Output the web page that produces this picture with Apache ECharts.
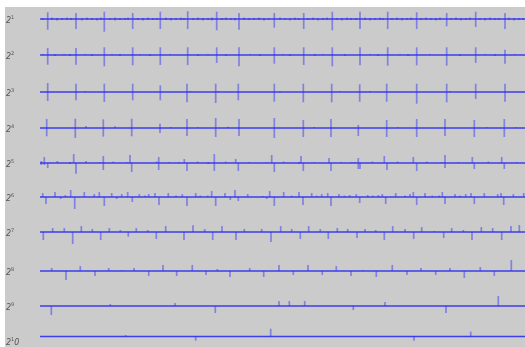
<!DOCTYPE html>
<html><head><meta charset="utf-8">
<script src="https://cdn.jsdelivr.net/npm/echarts@6/dist/echarts.min.js"></script>
<style>html,body{margin:0;padding:0;background:#fff}#c{width:525px;height:347px}</style>
</head><body><div id="c"></div>
<script>
// Scale labels (rich text: base 2 with exponent)
const scaleLabels = ['{b|2}{s|1}','{b|2}{s|2}','{b|2}{s|3}','{b|2}{s|4}','{b|2}{s|5}','{b|2}{s|6}','{b|2}{s|7}','{b|2}{s|8}','{b|2}{s|9}','{b|2}{s|1}{b|0}'];
const X_MAX = 485;
// Spikes per scale: [time, up amplitude, down amplitude]
const row1 = [[7.7,6.7,10.7],[36,6,10],[64.3,7.3,12.7],[92.7,6,10],[120.3,7.3,10],[147.7,7.7,10],[176.7,7.3,11.3],[199,6,10.7],[234.3,6,8.7],[263.7,6,10],[292.3,7.3,11.3],[320,7.3,10],[347.7,7.3,10],[376.7,6.7,10],[406.7,6,7.3],[435.7,7.3,8],[465,6,10]];
const row1Noise = [[3,1,1],[12,1.5,1],[17,1,1.5],[22,1,1],[27,1.5,1],[31,1,1],[42,1,1.5],[47,1.5,1],[52,1,1],[57,1,1.5],[61,1.5,1],[70,1,1],[75,1.5,1.5],[80,1,1],[85,1,1],[88,1.5,1],[98,1,1],[103,1,1.5],[108,1.5,1],[113,1,1],[117,1,1],[126,1.5,1],[131,1,1.5],[136,1,1],[141,1.5,1],[144,1,1],[153,1,1],[158,1.5,1],[163,1,1.5],[168,1,1],[172,1.5,1.5],[182,1,1],[186,1.5,1],[191,1,1],[195,1,1.5],[204,1.5,1],[209,1,1],[214,1,1],[219,1.5,1],[224,1,1.5],[229,1,1],[240,1.5,1],[245,1,1],[250,1,1.5],[255,1.5,1],[259,1,1],[268,1,1],[273,1.5,1],[278,1,1.5],[283,1,1],[287,1.5,1],[297,1,1],[302,1,1.5],[307,1.5,1],[311,1,1],[316,1,1],[325,1.5,1],[330,1,1.5],[335,1,1],[340,1.5,1],[343,1,1],[352,1,1],[357,1.5,1],[362,1,1.5],[367,1,1],[371,1.5,1],[381,1,1],[386,1.5,1],[391,1,1],[396,1,1.5],[400,1.5,1],[411,1,1],[416,1.5,1],[421,1,1.5],[426,1,1],[430,1.5,1],[440,1,1],[445,1,1.5],[450,1.5,1],[455,1,1],[459,1,1],[469,1.5,1],[474,1,1.5],[479,1,1],[483,1,1]];
const row2 = [[7.7,7,9.7],[36,7,9.7],[64.3,7.7,11.3],[92.7,7.7,10.3],[120.3,7.7,10],[147.7,7.7,10],[176.7,7.7,8],[199,7.7,11.3],[234.3,7.7,8.7],[263.7,7.7,10],[292.3,7.7,11.3],[320,7.7,10.3],[347.7,7.7,10.7],[376.7,7.7,10.3],[406.7,7.7,10.7],[435.7,7.7,8],[465,5.3,8.7]];
const row2Noise = [[3,1,0],[15,1,1],[24,1,0],[30,1,1],[45,1,0],[52,1,1],[72,1,0],[80,1,1],[100,1,0],[110,1,1],[130,1,0],[158,1,1],[168,1,0],[186,1,1],[210,1,0],[220,1,1],[243,1,0],[250,1,1],[275,1,1],[283,1,0],[305,1,1],[330,1,0],[338,1,1],[360,1,0],[368,1,1],[390,1,0],[420,1,1],[445,1,0],[455,1,1],[475,1,0]];
const row3 = [[7.7,9,9],[36,8.3,8.3],[64.3,8.3,10],[92.7,8.3,8.3],[120.3,6.7,8.3],[147,8.3,10.3],[175.7,8.3,11],[198.3,8.3,8.3],[234.3,8.3,9.7],[263.3,8.3,10.3],[291.7,8.3,10.3],[319.7,7.7,9.7],[346.7,8.3,9.7],[376.7,8.3,11.7],[406.7,8.3,10.3],[435.7,8.3,7],[465,8.3,9.7]];
const row3Noise = [[45,1,0],[150,1,0],[178,1,0],[240,1,0],[300,1,0],[330,1,0],[410,1,0]];
const row4 = [[6.7,9,8.3],[35.3,9.3,10],[46,2,0],[63.3,8.7,8.7],[75,1.7,0],[91.7,9.3,8.3],[120,4.3,5],[130.7,1,0],[147,9,8],[157.7,1,0],[175.7,10,9],[188,1.3,0],[199,9,8],[234.3,10,10],[263.3,8,9],[274,1,0],[291,9,9],[318.3,3,8],[346.7,8,9],[357.7,1,0],[376.7,9,9],[405,9,8],[434.3,8,9],[446.7,1,0],[464.3,9,9],[475.7,1,0]];
const row5 = [[1.3,2,2],[4.3,6,2],[7.7,0,5],[17.3,2,0],[30,1,1],[33.7,9,0],[36,0,10.7],[46,2,0],[60,1,0],[63.3,7,7],[73.3,1.5,0],[86.7,1,0],[90,8,0],[91.7,0,9],[116.7,1.5,0],[118.7,6,7],[129,1,0],[139,1,0],[144.3,4,0],[147,0,8],[157.7,1.5,0],[168.3,1,1],[174.3,9,8],[185.7,1.5,0],[195.7,4,0],[198.3,0,8],[209,1,0],[226.7,1,0],[231.7,8,0],[234.3,0,9],[243.7,1.5,0],[259,1,1],[261,7,0],[263.3,0,8],[274.3,1,0],[289,5,0],[291,0,8],[301,1,0],[311.7,1,0],[315,1,0],[318.3,5,6],[320,0,6],[332.3,1.5,0],[344.3,7,0],[347,0,7],[357.7,1.5,0],[373.3,6,0],[376.7,0,8],[386.7,1.5,0],[401.7,1,0],[405,8,5],[418.3,1,0],[432.3,6,0],[434.3,0,6],[448.3,1.5,0],[461.7,6,0],[464.3,0,6],[476.7,1,0]];
const row6 = [[2.7,4,0],[6,0,7],[15,5,0],[20.7,0,2],[25.3,2,0],[30.7,7,0],[34.7,0,12],[44.3,5,0],[54.3,3,0],[59.3,5,0],[64.3,0,9],[71.7,4,0],[76.7,0,2],[81.7,3,0],[87.7,5,0],[92.3,0,5],[99.3,3,0],[105,1.5,0],[108.7,3,0],[115,4,0],[119,0,8],[128.3,4,0],[136,1.5,0],[142.3,3,0],[147,0,9],[155.7,4,0],[160.3,1.5,0],[167.7,1.5,0],[171.7,6,0],[175.7,0,9],[185,4,0],[190.3,0,3],[195,7,0],[198.3,0,4],[207.7,3,0],[223,1,0],[226.7,0,2],[229.7,6,0],[234.3,0,9],[243.7,5,0],[251.7,1.5,0],[259,5,0],[263,0,8],[271.7,4,0],[276.7,1.5,0],[281.7,3,0],[287.7,4,0],[291,0,9],[299,3,0],[304.3,1.5,0],[309.7,2,0],[316.3,3,0],[319.7,0,6],[327.7,2,0],[333,1.5,0],[338.3,2,0],[342.3,3,0],[345.7,0,7],[355.7,4,0],[365,1.5,0],[370,3,0],[373.3,5,0],[376.7,0,8],[385,4,0],[392.3,1.5,0],[399,1.5,0],[402.3,5,0],[405,0,7],[415,3,0],[420,1.5,0],[425.7,3,0],[431,4,0],[434.3,0,7],[444.3,4,0],[457.7,3,0],[461,4,0],[463.7,0,8],[473.3,3,0],[483.7,4,0]];
const row7 = [[3.3,0,8],[12.7,4,0],[24.3,4,0],[32.7,0,12],[41.3,6,0],[52.3,3,0],[60.7,0,8],[69.3,4,0],[80.3,2,0],[88.3,0,4.7],[96.3,4,0],[107.7,2,0],[116.3,0,7],[125.7,6,0],[144,0,8],[153,6.7,0],[164.7,3,0],[172.7,0,8],[182,6,0],[196,0,8],[204.3,3,0],[221.7,3,0],[231,0,10],[240.7,6,0],[251.7,3,0],[260.3,0,7],[268.7,6,0],[280.3,3,0],[288.3,0,7],[297.3,4,0],[307.7,3,0],[317,0,6],[325,3,0],[335.7,2,0],[344.3,0,8],[352.7,6,0],[365,3,0],[373.7,0,7],[381.7,5,0],[394.3,1,0],[403.7,0,6],[411.7,4,0],[423.3,2,0],[432,0,8],[441.3,5,0],[452.7,4,0],[461.7,0,8],[471,6,0],[479.3,7,0]];
const row8 = [[11.7,3,0],[26,0,9],[40.3,5,0],[55,0,5],[68.7,3,0],[81.7,1,0],[94,3,0],[108.7,0,5],[123,6,0],[136.7,0,5],[152.3,6,0],[166,0,4],[177.3,2,0],[190,0,6],[209.7,3,0],[223.7,0,6],[239,6,0],[253.3,0,4],[268,6,0],[282.3,0,4],[296.3,5,0],[311,0,5],[323,1,0],[336.3,0,6],[352.3,6,0],[367,0,4],[381,3,0],[395.7,0,4],[410,3,0],[424.3,0,7],[440.3,4,0],[454.3,0,5],[471.3,11,0]];
const row9 = [[11.3,0,9],[70.3,2,0],[135,3,0],[175.3,0,7],[239,5,0],[249.3,5,0],[264.7,5,0],[313.3,0,4],[345,4,0],[406,0,7],[458.3,10,0]];
const row10 = [[85.7,2,0],[155.7,0,6],[230.7,11,0],[374,0,6],[430.7,7,0]];

const rows = [row1.concat(row1Noise),row2.concat(row2Noise),row3.concat(row3Noise),row4,row5,row6,row7,row8,row9,row10];
const baselines = [19,55,92,128,163,197,232,271,306,341];

const H = 15;
const SPIKE = 'rgba(55,55,250,0.5)';
const BASE = 'rgba(45,45,240,0.9)';
const grids=[], xAxes=[], yAxes=[], series=[], graphics=[];
graphics.push({type:'rect',left:5,top:7,shape:{width:520,height:340},style:{fill:'#cbcbcb'},z:-10});
rows.forEach((r,i)=>{
  grids.push({left:40,right:0,top:baselines[i]-H,height:2*H});
  xAxes.push({type:'value',gridIndex:i,min:0,max:X_MAX,show:false});
  yAxes.push({type:'value',gridIndex:i,min:-H,max:H,show:false});
  series.push({type:'line',xAxisIndex:i,yAxisIndex:i,data:[[0,0],[X_MAX,0]],symbol:'none',
    lineStyle:{width:1.6,color:BASE},silent:true,animation:false,z:3});
  series.push({type:'custom',xAxisIndex:i,yAxisIndex:i,data:r,silent:true,animation:false,z:2,
    encode:{x:0,y:1},
    renderItem:function(params,api){
      const t=api.value(0), u=api.value(1), d=api.value(2);
      const p1=api.coord([t,u]), p2=api.coord([t,-d]);
      return {type:'line',shape:{x1:p1[0],y1:p1[1],x2:p2[0],y2:p2[1]},style:{stroke:SPIKE,lineWidth:1.7}};
    }});
  graphics.push({type:'text',left:6,top:baselines[i]-4,z:10,
    style:{text:scaleLabels[i],fill:'#4a4a4a',
      rich:{b:{fontSize:8,fontFamily:'DejaVu Sans',fontStyle:'italic',fill:'#555',lineHeight:10,verticalAlign:'bottom'},
            s:{fontSize:5,fontFamily:'DejaVu Sans',fill:'#555',verticalAlign:'top',lineHeight:10}}}});
});

const chart = echarts.init(document.getElementById('c'),null,{renderer:'canvas'});
chart.setOption({backgroundColor:'#ffffff',animation:false,grid:grids,xAxis:xAxes,yAxis:yAxes,series:series,graphic:graphics});
</script></body></html>
